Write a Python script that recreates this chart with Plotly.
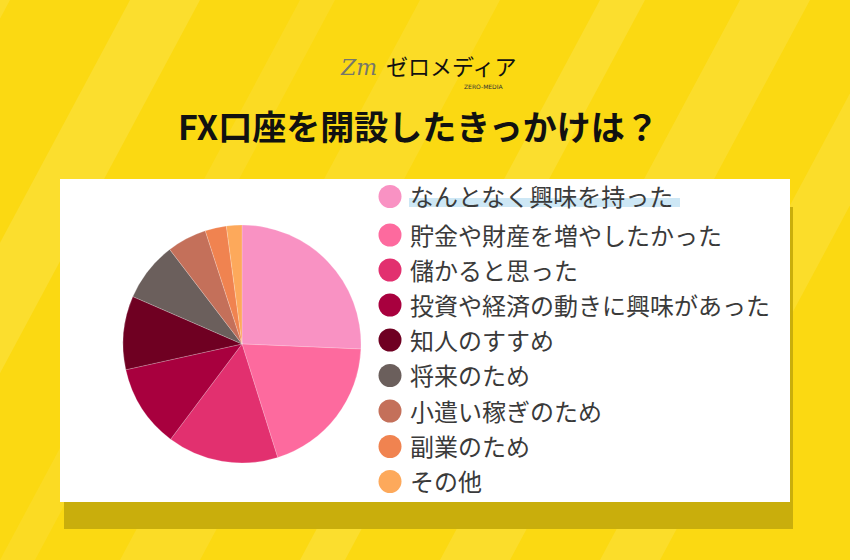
import plotly.graph_objects as go

# ---- data ----
labels = ["なんとなく興味を持った", "貯金や財産を増やしたかった", "儲かると思った",
          "投資や経済の動きに興味があった", "知人のすすめ", "将来のため",
          "小遣い稼ぎのため", "副業のため", "その他"]
values = [25.7, 19.5, 15.1, 11.3, 10.0, 8.1, 5.4, 2.9, 2.1]
colors = ["#F992C3", "#FD6A9E", "#E2306F", "#A8003E", "#6F0022",
          "#6B5F5C", "#C4705A", "#F08350", "#FDA95B"]
title_text = "FX口座を開設したきっかけは？"

W, H = 850, 560
def px(x): return x / W
def py(y): return 1 - y / H

shapes = []
# background stripes (soft lighter diagonal bands)
stripes = [(-40, 50, 0.14), (130, 70, 0.16), (300, 35, 0.10), (420, 80, 0.12),
           (600, 45, 0.16), (740, 70, 0.15), (900, 60, 0.14)]
for x0, w, op in stripes:
    shift = 300
    path = (f"M {px(x0)},{py(0)} L {px(x0 + w)},{py(0)} "
            f"L {px(x0 + w - shift)},{py(H)} L {px(x0 - shift)},{py(H)} Z")
    shapes.append(dict(type="path", path=path, xref="paper", yref="paper",
                       fillcolor="rgba(255,250,190,%s)" % op, line=dict(width=0), layer="below"))

# card shadow and card
shapes.append(dict(type="rect", xref="paper", yref="paper", x0=px(64), x1=px(793), y0=py(529), y1=py(207),
                   fillcolor="#C9AE0C", line=dict(width=0), layer="below"))
shapes.append(dict(type="rect", xref="paper", yref="paper", x0=px(60), x1=px(790), y0=py(502), y1=py(179),
                   fillcolor="#FFFFFF", line=dict(width=0), layer="below"))
# highlight under first legend item
shapes.append(dict(type="rect", xref="paper", yref="paper", x0=px(409), x1=px(680), y0=py(207), y1=py(198),
                   fillcolor="#CDE7F5", line=dict(width=0), layer="below"))

annotations = []
row_y = [195.5, 234, 269, 304, 339, 374.5, 410, 445.5, 480.5]
r = 11.5
for lab, col, yy in zip(labels, colors, row_y):
    shapes.append(dict(type="circle", xref="paper", yref="paper",
                       x0=px(390 - r), x1=px(390 + r), y0=py(yy + 1 + r), y1=py(yy + 1 - r),
                       fillcolor=col, line=dict(width=0)))
    annotations.append(dict(text=lab, x=px(408), y=py(yy), xref="paper", yref="paper",
                            xanchor="left", yanchor="middle", showarrow=False,
                            font=dict(family="Noto Sans CJK JP", size=24, color="#3A3A3A")))

# title
annotations.append(dict(text="<b>" + title_text + "</b>", x=px(418), y=py(126), xref="paper", yref="paper",
                        xanchor="center", yanchor="middle", showarrow=False,
                        font=dict(family="Noto Sans CJK JP", size=34, color="#111111")))
# logo
annotations.append(dict(text="<i>Zm</i>", x=px(358), y=py(67), xref="paper", yref="paper",
                        xanchor="center", yanchor="middle", showarrow=False,
                        font=dict(family="DejaVu Serif", size=22, color="#77776A")))
annotations.append(dict(text="ゼロメディア", x=px(451), y=py(65), xref="paper", yref="paper",
                        xanchor="center", yanchor="middle", showarrow=False,
                        font=dict(family="Noto Sans CJK JP", size=22, color="#111111")))
annotations.append(dict(text="ZERO-MEDIA", x=px(483), y=py(86), xref="paper", yref="paper",
                        xanchor="center", yanchor="middle", showarrow=False,
                        font=dict(family="DejaVu Sans", size=6, color="#333333")))

fig = go.Figure(go.Pie(
    labels=labels, values=values, sort=False, direction="clockwise", rotation=0,
    marker=dict(colors=colors, line=dict(color="rgba(255,255,255,0.4)", width=0.5)),
    textinfo="none", hoverinfo="label+percent", showlegend=False,
    domain=dict(x=[px(123), px(361)], y=[py(463), py(225)])
))

fig.update_layout(
    width=W, height=H, margin=dict(l=0, r=0, t=0, b=0),
    paper_bgcolor="#FBD912", plot_bgcolor="#FBD912",
    shapes=shapes, annotations=annotations,
)

fig.write_html("out.html", config={"displayModeBar": False},
               post_script="document.body.style.margin='0';document.body.style.overflow='hidden';")
